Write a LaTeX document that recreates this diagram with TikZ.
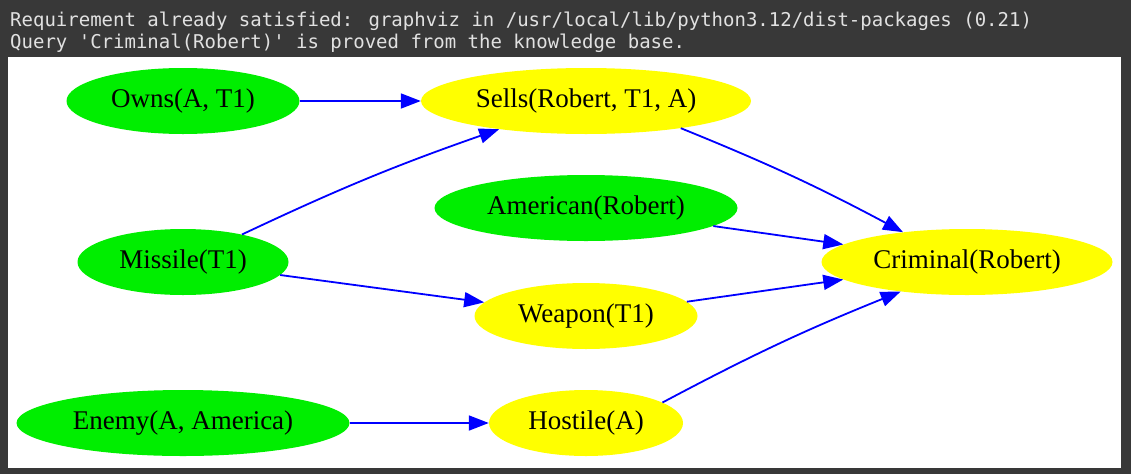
\documentclass[tikz,border=0pt]{standalone}
\usepackage{fontspec}
\setmainfont{Liberation Serif}
\newfontfamily\consolefont{DejaVu Sans Mono}
\usetikzlibrary{shapes.geometric,arrows.meta}
\definecolor{consolebg}{RGB}{56,56,56}
\definecolor{consolefg}{RGB}{225,225,225}
\definecolor{factgreen}{RGB}{0,238,0}
\definecolor{derivedyellow}{RGB}{255,255,0}
\tikzset{
  fact/.style={ellipse, fill=factgreen, minimum height=66pt, inner sep=2pt, font=\fontsize{27}{30}\selectfont},
  derived/.style={ellipse, fill=derivedyellow, minimum height=66pt, inner sep=2pt, font=\fontsize{27}{30}\selectfont},
  infer/.style={-{Triangle[length=20pt,width=15pt]}, draw=blue, line width=1.8pt}
}
\begin{document}
\begin{tikzpicture}[x=1pt, y=-1pt]
  \useasboundingbox (0,0) rectangle (1131,474);
  \fill[consolebg] (0,0) rectangle (1131,474);
  \fill[white] (8,57) rectangle (1121,468);
  \node[anchor=base west, inner sep=0pt, text=consolefg, font=\consolefont\fontsize{19}{22}\selectfont] (line1) at (10,26) {Requirement already satisfied: graphviz in /usr/local/lib/python3.12/dist-packages (0.21)};
  \node[anchor=base west, inner sep=0pt, text=consolefg, font=\consolefont\fontsize{19}{22}\selectfont] (line2) at (10,48) {Query 'Criminal(Robert)' is proved from the knowledge base.};
  % facts
  \node[fact, minimum width=233pt] (owns) at (183,101) {Owns(A, T1)};
  \node[fact, minimum width=211pt] (missile) at (183,262) {Missile(T1)};
  \node[fact, minimum width=333pt] (enemy) at (183,423) {Enemy(A, America)};
  \node[fact, minimum width=303pt] (american) at (586,208) {American(Robert)};
  % derived
  \node[derived, minimum width=330pt] (sells) at (586,101) {Sells(Robert, T1, A)};
  \node[derived, minimum width=223pt] (weapon) at (586,316) {Weapon(T1)};
  \node[derived, minimum width=194pt] (hostile) at (586,423) {Hostile(A)};
  \node[derived, minimum width=291pt] (criminal) at (967,262) {Criminal(Robert)};
  % rules
  \draw[infer] (owns) -- (sells);
  \draw[infer] (missile.25) to[bend left=3] (sells.-162);
  \draw[infer] (missile) -- (weapon);
  \draw[infer] (enemy) -- (hostile);
  \draw[infer] (sells.-16) to[bend left=3] (criminal.155);
  \draw[infer] (american) -- (criminal);
  \draw[infer] (weapon) -- (criminal);
  \draw[infer] (hostile.15) to[bend left=3] (criminal.-156);
\end{tikzpicture}
\end{document}
